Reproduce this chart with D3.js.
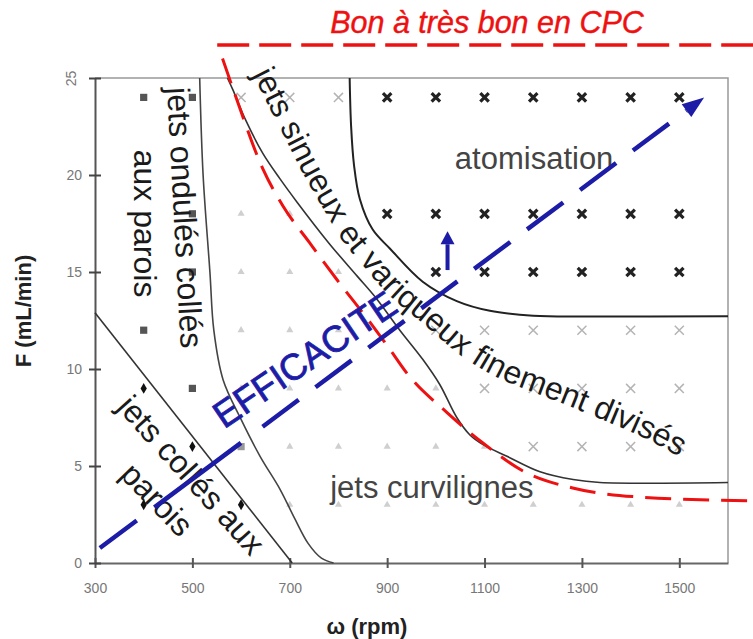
<!DOCTYPE html>
<html>
<head>
<meta charset="UTF-8" />
<title>Régimes de jets</title>
<script src="https://d3js.org/d3.v7.min.js"></script>
<style>
  body { margin: 0; background: #fff; }
  text { font-family: "Liberation Sans", Arial, sans-serif; }
</style>
</head>
<body>
<svg id="viz" width="753" height="639"></svg>
<script>
// --- data (omega in rpm, F in mL/min) ---
var xTicks = [300, 500, 700, 900, 1100, 1300, 1500];
var yTicks = [0, 5, 10, 15, 20, 25];

var squares = [[400, 24], [400, 12], [500, 24], [500, 18], [500, 15], [500, 9]];
var graySquares = [[600, 6]];
var diamonds = [[400, 9], [400, 3], [500, 6], [600, 3]];
var triangles = [[600, 18], [600, 15], [600, 12], [600, 9],
  [700, 18], [700, 15], [700, 12], [700, 9], [700, 6], [700, 3],
  [800, 15], [800, 12], [800, 9], [800, 6], [800, 3],
  [900, 9], [900, 6], [900, 3], [1000, 9], [1000, 6], [1000, 3],
  [1100, 6], [1100, 3], [1200, 3], [1300, 3], [1400, 3], [1500, 3]];
var grayCrosses = [[600, 24], [700, 24], [800, 24],
  [1000, 12], [1100, 12], [1200, 12], [1300, 12], [1400, 12], [1500, 12],
  [1100, 9], [1200, 9], [1300, 9], [1400, 9], [1500, 9],
  [1200, 6], [1300, 6], [1400, 6], [1500, 6]];
var blackCrosses = [[900, 24], [1000, 24], [1100, 24], [1200, 24], [1300, 24], [1400, 24], [1500, 24],
  [900, 18], [1000, 18], [1100, 18], [1200, 18], [1300, 18], [1400, 18], [1500, 18],
  [1000, 15], [1100, 15], [1200, 15], [1300, 15], [1400, 15], [1500, 15]];

// regime boundaries
var lineColles = [[300, 12.9], [705, 0]];
var lineOndules = [[515, 25], [522, 20], [536, 15], [544, 12], [563, 9.45], [600, 7.4], [639, 5.5],
  [680, 3.8], [710, 2.3], [738, 1.0], [765, 0.25], [790, 0]];
var lineSinueux = [[572, 25], [583, 24.4], [610, 22.8], [645, 21.1], [680, 19.8], [715, 18.6], [780, 16.5],
  [838, 14.8], [879, 13.6], [926, 12.0], [973, 10.5], [1008, 9.2], [1043, 7.5], [1070, 6.6], [1097, 6.1],
  [1146, 5.5], [1214, 4.7], [1282, 4.3], [1337, 4.15], [1600, 4.15]];
var lineAtomisation = [[823, 25], [826, 22.5], [832, 20.5], [844, 18.75], [870, 17.2], [906, 16.2],
  [973, 14.5], [1043, 13.5], [1111, 13.0], [1200, 12.75], [1300, 12.7], [1600, 12.72]];

// "Bon a tres bon en CPC" zone
var cpcCurve = [[562, 26], [591, 23.9], [645, 20.3], [686, 18.4], [741, 16.5], [797, 14.6],
  [865, 12.4], [906, 11.0], [940, 9.8], [1023, 7.75], [1096, 6.2], [1186, 4.65],
  [1281, 3.87], [1418, 3.4], [1650, 3.2]];
var cpcTop = [[551, 26.7], [1660, 26.7]];

// arrows
var efficaciteArrow = [[310, 0.77], [1551, 24.0]];
var smallArrow = [[1024, 15.1], [1024, 17.1]];

// label path for "jets sinueux ..."
var sinueuxText = [[639, 25.36], [700, 22.37], [742, 20.3], [783, 18.49], [824, 16.79], [865, 15.55],
  [916, 14.1], [978, 12.81], [1064, 11.0], [1132, 9.97], [1234, 8.94], [1337, 7.9], [1440, 6.77], [1553, 5.22]];

var svg = d3.select("#viz");
var x = d3.scaleLinear().domain([300, 1600]).range([95, 728]);
var y = d3.scaleLinear().domain([0, 25]).range([563, 78]);

var line = d3.line().x(d => x(d[0])).y(d => y(d[1])).curve(d3.curveCatmullRom);
var smooth = d3.line().x(d => x(d[0])).y(d => y(d[1])).curve(d3.curveMonotoneX);

// frame top/right
svg.append("path")
  .attr("d", `M${x(300)},${y(25)}H${x(1600)}V${y(0)}`)
  .attr("fill", "none").attr("stroke", "#999").attr("stroke-width", 1.5);

// axes
var gx = svg.append("g").attr("transform", `translate(0,${y(0)})`)
  .call(d3.axisBottom(x).tickValues(xTicks).tickFormat(d3.format("d"))
    .tickSize(5).tickSizeOuter(0).tickPadding(15));
gx.select(".domain").attr("stroke", "#666").attr("stroke-width", 2);
gx.selectAll(".tick line").attr("y1", -5).attr("y2", 5).attr("stroke", "#555").attr("stroke-width", 2);
gx.selectAll(".tick text").attr("font-size", 14).attr("fill", "#777")
  .attr("font-family", "Liberation Sans, Arial, sans-serif");

var gy = svg.append("g").attr("transform", `translate(${x(300)},0)`)
  .call(d3.axisLeft(y).tickValues(yTicks).tickSize(6).tickSizeOuter(0).tickPadding(7));
gy.select(".domain").attr("stroke", "#555").attr("stroke-width", 2);
gy.selectAll(".tick line").attr("x1", -6).attr("x2", 6).attr("stroke", "#444").attr("stroke-width", 2);
gy.selectAll(".tick text").attr("font-size", 14).attr("fill", "#777")
  .attr("font-family", "Liberation Sans, Arial, sans-serif");
gy.selectAll(".tick text").filter(d => d === 25)
  .attr("text-anchor", "middle").attr("x", 0).attr("dy", "0.35em")
  .attr("transform", "translate(-24,0) rotate(-90)");

// markers
function pos(d) { return `translate(${x(d[0])},${y(d[1])})`; }
svg.selectAll(".tri").data(triangles).join("path").attr("class", "tri")
  .attr("transform", pos).attr("d", d3.symbol(d3.symbolTriangle, 22)).attr("fill", "#cfcfcf");
svg.selectAll(".gx").data(grayCrosses).join("path").attr("class", "gx")
  .attr("transform", pos).attr("d", d3.symbol(d3.symbolX, 55))
  .attr("fill", "none").attr("stroke", "#b4b4b4").attr("stroke-width", 1.5);
svg.selectAll(".bx").data(blackCrosses).join("path").attr("class", "bx")
  .attr("transform", pos).attr("d", d3.symbol(d3.symbolX, 48))
  .attr("fill", "none").attr("stroke", "#222").attr("stroke-width", 3.2);
svg.selectAll(".sq").data(squares).join("path").attr("class", "sq")
  .attr("transform", pos).attr("d", d3.symbol(d3.symbolSquare, 52)).attr("fill", "#555");
svg.selectAll(".gsq").data(graySquares).join("path").attr("class", "gsq")
  .attr("transform", pos).attr("d", d3.symbol(d3.symbolSquare, 52)).attr("fill", "#999");
svg.selectAll(".dia").data(diamonds).join("path").attr("class", "dia")
  .attr("transform", pos).attr("d", d3.symbol(d3.symbolDiamond, 34)).attr("fill", "#111");

// boundaries
[[lineColles, "#333", 1.6], [lineOndules, "#444", 1.6], [lineSinueux, "#333", 1.6], [lineAtomisation, "#222", 2]]
  .forEach(function (b) {
    svg.append("path").attr("d", line(b[0])).attr("fill", "none")
      .attr("stroke", b[1]).attr("stroke-width", b[2]);
  });

// red CPC zone
svg.append("path").attr("d", smooth(cpcCurve)).attr("fill", "none")
  .attr("stroke", "#ee1111").attr("stroke-width", 3).attr("stroke-dasharray", "26,12");
svg.append("path").attr("d", smooth(cpcTop)).attr("fill", "none")
  .attr("stroke", "#ee1111").attr("stroke-width", 3.5).attr("stroke-dasharray", "32,10");
svg.append("text").attr("x", 487).attr("y", 33).attr("text-anchor", "middle")
  .attr("font-size", 30.5).attr("font-style", "italic").attr("fill", "#ee1111")
  .attr("stroke", "#ee1111").attr("stroke-width", 0.4)
  .text("Bon à très bon en CPC");

// labels
var ink = "#1a1a1a";
function label(txt, p, angle, size, fill) {
  return svg.append("text")
    .attr("transform", `translate(${x(p[0])},${y(p[1])}) rotate(${angle})`)
    .attr("font-size", size).attr("fill", fill).text(txt);
}
label("jets ondulés collés", [448, 24.5], 87, 32, ink);
label("aux parois", [380, 21.3], 90, 32, ink);
label("jets collés aux", [343, 8.0], 48, 32, ink);
label("parois", [349, 4.5], 46, 32, ink);
label("atomisation", [1039, 20.3], 0, 31, "#444");
label("jets curvilignes", [783, 3.36], 0, 31, "#444");

svg.append("defs").append("path").attr("id", "sinueuxPath").attr("d", line(sinueuxText));
svg.append("text").attr("font-size", 32).attr("fill", ink)
  .append("textPath").attr("href", "#sinueuxPath")
  .append("tspan").attr("dy", "0.26em").text("jets sinueux et variqueux finement divisés");

// EFFICACITE arrow
var blue = "#1c1ca6";
function arrow(pts, headLen, headHalf, width, dash) {
  var p0 = [x(pts[0][0]), y(pts[0][1])], p1 = [x(pts[1][0]), y(pts[1][1])];
  var dx = p1[0] - p0[0], dy = p1[1] - p0[1], L = Math.hypot(dx, dy);
  var ux = dx / L, uy = dy / L;
  var b = [p1[0] - ux * headLen, p1[1] - uy * headLen];
  svg.append("path").attr("d", `M${p0}L${b}`).attr("stroke", blue)
    .attr("stroke-width", width).attr("fill", "none").attr("stroke-dasharray", dash);
  svg.append("path")
    .attr("d", `M${p1}L${b[0] - uy * headHalf},${b[1] + ux * headHalf}L${b[0] + uy * headHalf},${b[1] - ux * headHalf}Z`)
    .attr("fill", blue);
}
arrow(efficaciteArrow, 22, 8, 4.5, "46,22,108,27,45,21,45,21,45,21,45,21,45,21,45,21,45,21,45,21");
arrow(smallArrow, 13, 7, 4, null);

label("EFFICACITE", [565, 6.9], -34, 37, blue)
  .attr("stroke", blue).attr("stroke-width", 0.8)
  .attr("textLength", 212).attr("lengthAdjust", "spacingAndGlyphs");

// axis titles
svg.append("text").attr("x", 367).attr("y", 634).attr("text-anchor", "middle")
  .attr("font-size", 22).attr("font-weight", "bold").attr("fill", "#222").text("ω (rpm)");
svg.append("text").attr("transform", "translate(31,311) rotate(-90)").attr("text-anchor", "middle")
  .attr("font-size", 22).attr("font-weight", "bold").attr("fill", "#222").text("F (mL/min)");
</script>
</body>
</html>
